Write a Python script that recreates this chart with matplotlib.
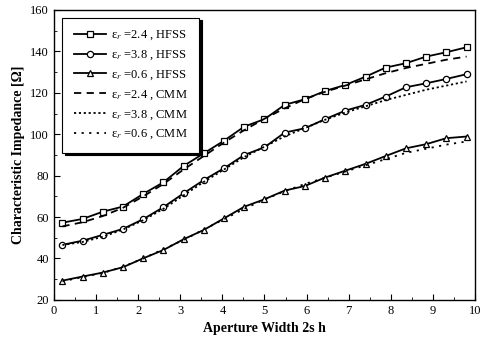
import matplotlib
matplotlib.use("Agg")
import matplotlib.pyplot as plt
from matplotlib.ticker import MultipleLocator

x = [0.2, 0.68, 1.16, 1.64, 2.12, 2.6, 3.08, 3.56, 4.04, 4.52, 5.0,
     5.48, 5.96, 6.44, 6.92, 7.4, 7.88, 8.36, 8.84, 9.32, 9.8]

hfss_24 = [57.3, 59.1, 62.6, 65.1, 71.2, 76.8, 84.7, 90.8, 96.9, 103.7, 107.3,
           114.2, 116.9, 120.9, 123.8, 127.8, 132.2, 134.3, 137.5, 139.6, 142.0]
hfss_38 = [46.6, 48.6, 51.4, 54.3, 59.0, 64.8, 71.5, 77.9, 83.6, 90.0, 93.7,
           100.8, 102.9, 107.3, 111.4, 114.2, 118.2, 122.7, 124.6, 126.7, 129.0]
hfss_06 = [29.3, 31.3, 33.2, 35.8, 40.1, 44.1, 49.3, 53.8, 59.4, 65.0, 68.6,
           72.8, 75.0, 79.1, 82.4, 85.7, 89.5, 93.2, 95.2, 98.1, 98.9]
cmm_24 = [55.5, 57.5, 60.5, 64.5, 70.0, 76.0, 83.0, 89.5, 96.0, 102.0, 107.5,
          112.5, 117.0, 120.5, 123.5, 126.5, 129.5, 132.0, 134.0, 136.0, 137.5]
cmm_38 = [46.5, 48.0, 50.5, 54.0, 58.5, 64.0, 70.5, 77.0, 83.0, 89.0, 94.0,
          99.0, 103.0, 107.0, 110.5, 113.5, 116.5, 119.0, 121.5, 123.5, 125.5]
cmm_06 = [29.0, 31.0, 33.0, 36.0, 40.0, 44.5, 49.0, 54.0, 59.0, 64.0, 68.5,
          72.5, 76.0, 79.0, 82.0, 85.0, 88.0, 91.0, 93.0, 95.0, 96.5]

labels = ["ε$_r$ =2.4 , HFSS", "ε$_r$ =3.8 , HFSS", "ε$_r$ =0.6 , HFSS",
          "ε$_r$ =2.4 , CMM", "ε$_r$ =3.8 , CMM", "ε$_r$ =0.6 , CMM"]

plt.rcParams['font.family'] = ['Liberation Serif', 'DejaVu Serif']
plt.rcParams['mathtext.fontset'] = 'stix'

fig = plt.figure(figsize=(4.82, 3.52), dpi=100)
ax = fig.add_axes([0.112, 0.148, 0.8735, 0.8236])

lw = 1.3
ax.plot(x, hfss_24, '-', color='black', lw=lw, marker='s', ms=4.5, mfc='white', mew=0.9, label=labels[0])
ax.plot(x, hfss_38, '-', color='black', lw=lw, marker='o', ms=4.5, mfc='white', mew=0.9, label=labels[1])
ax.plot(x, hfss_06, '-', color='black', lw=lw, marker='^', ms=5, mfc='white', mew=0.9, label=labels[2])
ax.plot(x, cmm_24, color='black', lw=1.3, linestyle=(0, (4, 3)), label=labels[3])
ax.plot(x, cmm_38, color='black', lw=1.3, linestyle=(0, (1.2, 1.5)), label=labels[4])
ax.plot(x, cmm_06, color='black', lw=1.3, linestyle=(0, (1.2, 3)), label=labels[5])

ax.set_xlim(0, 10)
ax.set_ylim(20, 160)
ax.xaxis.set_major_locator(MultipleLocator(1))
ax.xaxis.set_minor_locator(MultipleLocator(0.5))
ax.yaxis.set_major_locator(MultipleLocator(20))
ax.yaxis.set_minor_locator(MultipleLocator(10))
ax.tick_params(which='both', direction='in', labelsize=9)
ax.tick_params(which='major', length=4)
ax.tick_params(which='minor', length=2)
for s in ax.spines.values():
    s.set_linewidth(1.0)

ax.set_xlabel("Aperture Width 2s h", fontsize=10, fontweight='bold')
ax.set_ylabel("Characteristic Impedance [Ω]", fontsize=10, fontweight='bold')

leg = ax.legend(loc='upper left', bbox_to_anchor=(0.005, 0.995), fontsize=9,
                frameon=True, fancybox=False, edgecolor='black',
                shadow={'color': 'black', 'alpha': 1.0}, framealpha=1,
                handlelength=2.6, labelspacing=0.5, borderpad=0.9,
                handletextpad=0.4)
leg.get_frame().set_linewidth(0.8)

fig.savefig("out.png", dpi=100)
